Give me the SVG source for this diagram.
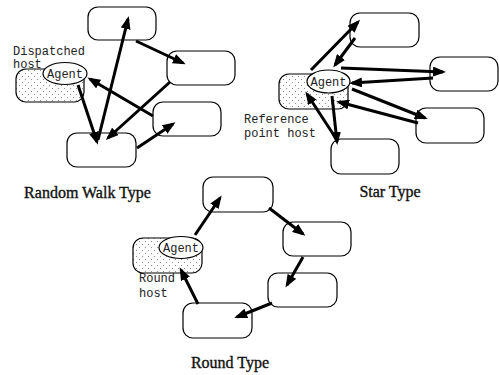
<svg xmlns="http://www.w3.org/2000/svg" width="499" height="375" viewBox="0 0 499 375">
<style>
.box{fill:#fff;stroke:#000;stroke-width:1.2}
.host{fill:url(#dots);stroke:#000;stroke-width:1.2}
.agent{fill:#fff;stroke:#000;stroke-width:1.2}
.mono{font-family:"Liberation Mono","DejaVu Sans Mono",monospace;font-size:12px;fill:#222}
.title{font-family:"Liberation Serif","DejaVu Serif",serif;font-size:16px;fill:#111;stroke:#111;stroke-width:0.35;text-anchor:middle}
.conn line{stroke:#000;stroke-width:3;marker-end:url(#ah)}
</style>
<defs>
<pattern id="dots" patternUnits="userSpaceOnUse" width="6" height="6">
<rect width="6" height="6" fill="#fff"/>
<rect x="1" y="1" width="1" height="1" fill="#8a8a8a"/>
<rect x="4" y="4" width="1" height="1" fill="#8a8a8a"/>
</pattern>
<marker id="ah" markerUnits="userSpaceOnUse" markerWidth="13" markerHeight="10" refX="10" refY="5" orient="auto">
<path d="M0,0 L13,5 L0,10 z" fill="#000"/>
</marker>
</defs>
<rect width="499" height="375" fill="#fff"/>

<!-- Random Walk -->
<g id="rw-top"><rect class="box" x="88" y="7" width="68" height="33" rx="10"/></g>
<g id="rw-right"><rect class="box" x="167" y="51" width="68" height="34" rx="10"/></g>
<g id="rw-mid"><rect class="box" x="153" y="102" width="68" height="34" rx="10"/></g>
<g id="rw-bottom"><rect class="box" x="67" y="133" width="69" height="34" rx="10"/></g>
<g id="rw-host">
<rect class="host" x="16" y="69" width="68" height="33" rx="10"/>
<ellipse class="agent" cx="65" cy="73.5" rx="22" ry="11"/>
<text class="mono" x="65" y="78" text-anchor="middle">Agent</text>
<text class="mono" x="13" y="55">Dispatched</text>
<text class="mono" x="13" y="68">host</text>
</g>
<text class="title" x="87.5" y="198">Random Walk Type</text>

<!-- Star -->
<g id="st-top"><rect class="box" x="350" y="13" width="69" height="34" rx="10"/></g>
<g id="st-right"><rect class="box" x="430" y="57" width="68" height="34" rx="10"/></g>
<g id="st-lower"><rect class="box" x="416" y="108" width="68" height="35" rx="10"/></g>
<g id="st-bottom"><rect class="box" x="331" y="139" width="68" height="35" rx="10"/></g>
<g id="st-host">
<rect class="host" x="279" y="74" width="69" height="35" rx="10"/>
<ellipse class="agent" cx="328.5" cy="81.5" rx="21.5" ry="11.5"/>
<text class="mono" x="328.5" y="85.5" text-anchor="middle">Agent</text>
<text class="mono" x="244" y="123">Reference</text>
<text class="mono" x="244" y="137">point host</text>
</g>
<text class="title" x="390" y="197">Star Type</text>

<!-- Round -->
<g id="rd-top"><rect class="box" x="203" y="177" width="70" height="35" rx="10"/></g>
<g id="rd-right"><rect class="box" x="283" y="222" width="68" height="34" rx="10"/></g>
<g id="rd-lower"><rect class="box" x="268" y="273" width="69" height="34" rx="10"/></g>
<g id="rd-bottom"><rect class="box" x="183" y="303" width="69" height="35" rx="10"/></g>
<g id="rd-host">
<rect class="host" x="133" y="238" width="69" height="35" rx="10"/>
<ellipse class="agent" cx="181" cy="247.5" rx="22" ry="11"/>
<text class="mono" x="181" y="252" text-anchor="middle">Agent</text>
<text class="mono" x="139" y="282">Round</text>
<text class="mono" x="139" y="297">host</text>
</g>
<text class="title" x="230" y="368">Round Type</text>

<g id="connectors" class="conn">
<line x1="98" y1="140" x2="128" y2="19"/>
<line x1="78" y1="85" x2="97" y2="142"/>
<line x1="136" y1="41" x2="183" y2="63"/>
<line x1="170" y1="82" x2="108" y2="138"/>
<line x1="153" y1="116" x2="90" y2="79"/>
<line x1="137" y1="148" x2="173" y2="124"/>

<line x1="311" y1="70" x2="358" y2="22"/>
<line x1="355" y1="38" x2="335" y2="65"/>
<line x1="341" y1="68" x2="443" y2="72"/>
<line x1="433" y1="78" x2="352" y2="83"/>
<line x1="352" y1="89" x2="425" y2="118"/>
<line x1="418" y1="123" x2="339" y2="102"/>
<line x1="332" y1="96" x2="337" y2="142"/>
<line x1="337" y1="140" x2="307" y2="94"/>

<line x1="195" y1="235" x2="220" y2="198"/>
<line x1="269" y1="208" x2="303" y2="234"/>
<line x1="303" y1="257" x2="287" y2="285"/>
<line x1="272" y1="303" x2="237" y2="317"/>
<line x1="198" y1="304" x2="181" y2="270"/>
</g>
</svg>
